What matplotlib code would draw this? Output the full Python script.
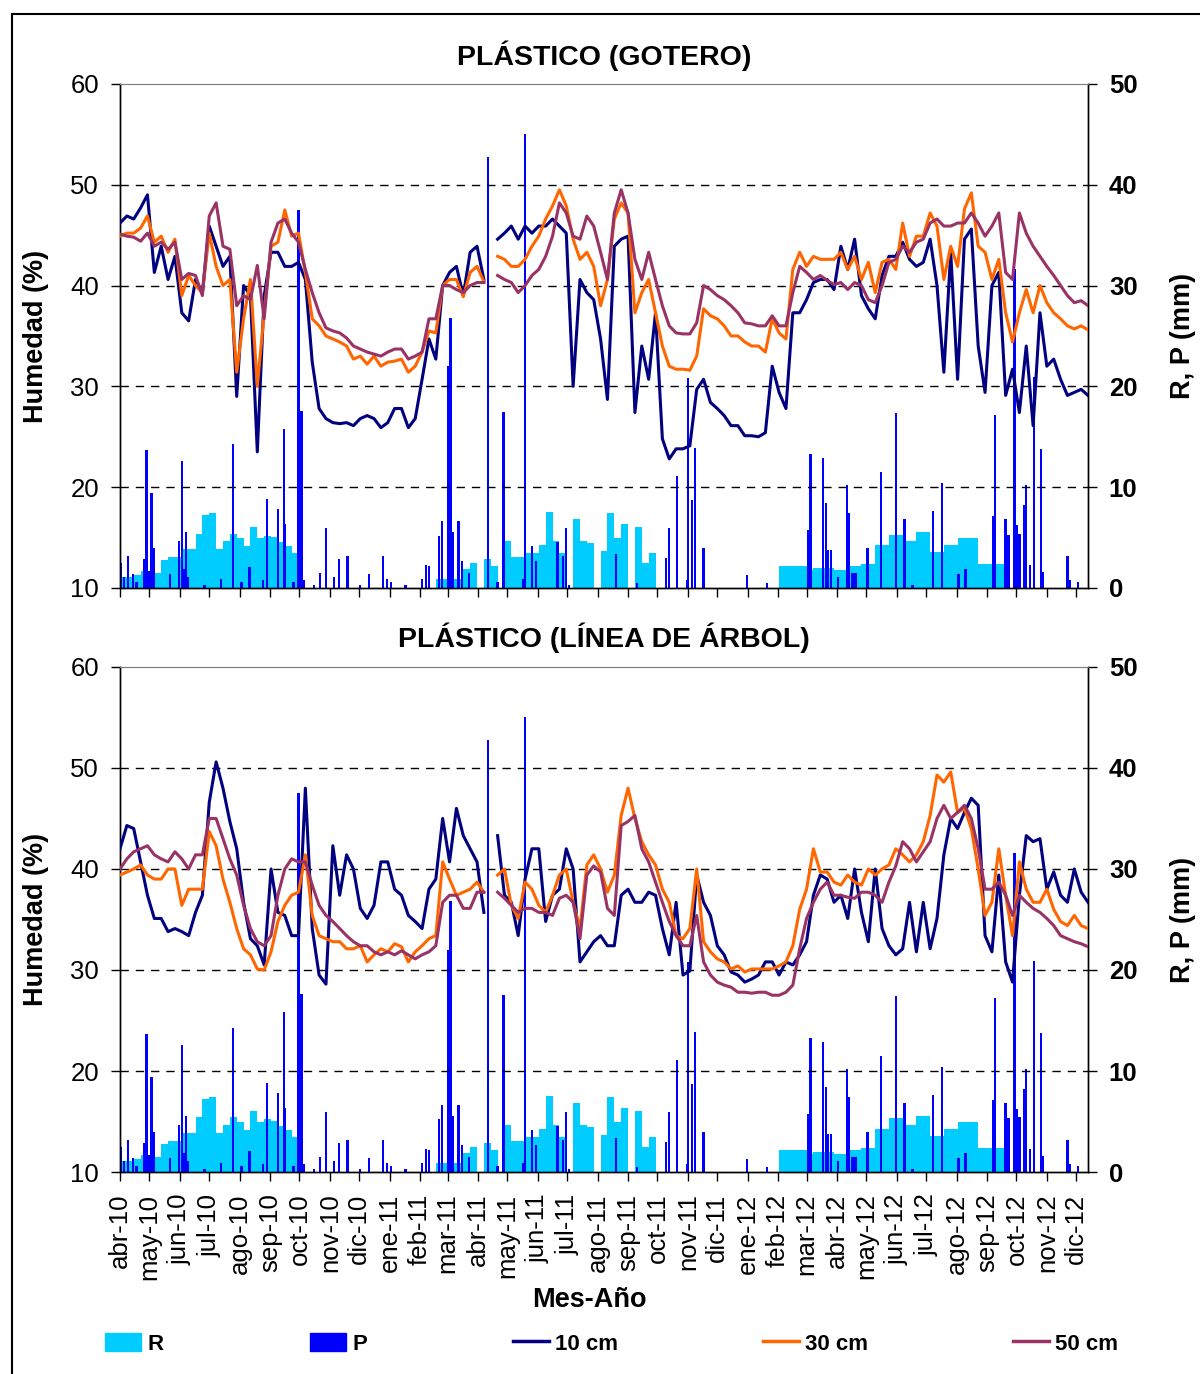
import numpy as np
import matplotlib
matplotlib.use("Agg")
import matplotlib.pyplot as plt
from matplotlib.patches import Patch, Rectangle
from matplotlib.lines import Line2D

plt.rcParams['font.family'] = ['Liberation Sans', 'DejaVu Sans']

# weekly readings, starting 1 Apr 2010
start = np.datetime64('2010-04-01')
n_weeks = 142
nan = np.nan

# PLASTICO (GOTERO) - soil moisture (%)
g10 = [46.2, 46.9, 46.6, 47.7, 49.0, 41.3, 43.9, 40.6, 42.9, 37.3,
       36.5, 40.6, 39.3, 45.9, 43.9, 41.9, 42.9, 29.0, 40.0, 39.0,
       23.5, 39.0, 43.3, 43.3, 41.9, 41.9, 42.3, 40.6, 32.4, 27.8,
       26.8, 26.4, 26.3, 26.4, 26.1, 26.8, 27.1, 26.8, 25.9, 26.4,
       27.8, 27.8, 25.9, 26.8, 30.7, 34.7, 32.7, 40.0, 41.3, 41.9,
       39.0, 43.3, 43.9, 40.6, nan, 44.6, 45.2, 45.9, 44.6, 45.9,
       45.2, 45.9, 45.9, 46.6, 45.9, 45.2, 30.0, 40.6, 39.3, 38.6,
       34.7, 28.7, 43.9, 44.6, 44.9, 27.4, 34.0, 30.7, 37.3, 24.8,
       22.8, 23.8, 23.8, 24.1, 29.7, 30.7, 28.4, 27.8, 27.1, 26.1,
       26.1, 25.1, 25.1, 25.0, 25.4, 32.0, 29.4, 27.8, 37.3, 37.3,
       38.6, 40.3, 40.6, 40.6, 39.6, 43.9, 41.6, 44.6, 39.0, 37.7,
       36.7, 41.0, 42.9, 42.9, 44.3, 42.6, 41.9, 42.3, 44.6, 40.0,
       31.4, 43.3, 30.7, 44.6, 45.6, 34.0, 29.4, 40.0, 41.3, 29.1,
       31.7, 27.4, 34.0, 26.1, 37.3, 32.0, 32.7, 30.7, 29.1, 29.4,
       29.7, 29.1]
g30 = [44.9, 45.2, 45.2, 45.7, 46.9, 44.3, 44.9, 43.3, 44.6, 39.0,
       41.0, 40.0, 39.3, 45.2, 41.9, 40.0, 40.6, 31.4, 36.7, 40.6,
       30.0, 37.3, 43.9, 44.3, 47.5, 44.9, 45.2, 41.3, 36.7, 36.0,
       35.0, 34.7, 34.4, 34.0, 32.7, 33.0, 32.2, 33.0, 32.0, 32.4,
       32.5, 32.7, 31.4, 32.0, 33.4, 35.5, 35.3, 40.0, 40.6, 40.6,
       38.9, 41.3, 41.9, 40.4, nan, 42.9, 42.6, 41.9, 41.9, 42.6,
       43.9, 44.9, 46.6, 47.9, 49.5, 47.9, 44.6, 42.6, 43.3, 41.9,
       38.0, 40.6, 46.6, 48.2, 47.2, 37.3, 39.3, 40.6, 37.3, 34.0,
       32.0, 31.7, 31.7, 31.6, 33.0, 37.7, 37.0, 36.7, 36.0, 35.0,
       35.0, 34.4, 34.0, 34.0, 33.4, 36.7, 35.3, 34.7, 41.6, 43.3,
       41.9, 42.9, 42.6, 42.6, 42.6, 43.3, 41.6, 42.9, 40.6, 42.3,
       39.3, 42.3, 42.6, 41.6, 46.2, 42.9, 44.9, 44.9, 47.2, 45.9,
       40.6, 43.9, 41.9, 47.6, 49.2, 43.9, 43.3, 40.6, 42.6, 37.3,
       34.4, 37.3, 39.6, 37.3, 40.0, 38.3, 37.3, 36.7, 36.0, 35.7,
       36.0, 35.6]
g50 = [45.1, 44.9, 44.8, 44.4, 45.2, 43.9, 44.3, 43.6, 44.3, 40.6,
       41.2, 41.0, 39.0, 46.9, 48.2, 43.9, 43.6, 38.0, 39.0, 38.6,
       42.0, 36.7, 44.3, 46.2, 46.6, 45.2, 44.3, 41.6, 39.3, 37.3,
       35.8, 35.5, 35.3, 34.8, 34.0, 33.7, 33.4, 33.2, 33.0, 33.4,
       33.7, 33.7, 32.7, 33.0, 33.4, 36.7, 36.7, 40.0, 40.0, 39.6,
       39.3, 40.0, 40.3, 40.3, nan, 41.0, 40.6, 40.3, 39.3, 40.0,
       41.0, 41.6, 42.9, 44.9, 48.2, 47.2, 44.9, 44.6, 46.9, 45.9,
       43.3, 40.6, 47.2, 49.5, 47.2, 42.6, 40.6, 43.3, 40.6, 38.0,
       36.0, 35.3, 35.2, 35.2, 36.3, 40.0, 39.6, 39.0, 38.6, 38.0,
       37.3, 36.3, 36.2, 36.0, 36.0, 37.0, 36.0, 36.0, 39.3, 41.9,
       41.3, 40.6, 41.0, 40.5, 40.1, 40.3, 39.6, 40.3, 40.0, 38.6,
       38.3, 40.0, 42.3, 42.6, 43.9, 43.3, 44.3, 44.6, 46.2, 46.6,
       45.9, 45.9, 46.2, 46.2, 47.2, 46.2, 44.9, 45.9, 47.2, 41.3,
       40.6, 47.2, 45.2, 43.9, 42.9, 41.9, 41.0, 40.0, 39.0, 38.3,
       38.5, 38.0]

# PLASTICO (LINEA DE ARBOL) - soil moisture (%)
a10 = [42.0, 44.3, 44.0, 40.7, 37.4, 35.1, 35.1, 33.8, 34.1, 33.8,
       33.4, 35.7, 37.4, 46.6, 50.6, 48.0, 44.7, 42.0, 36.7, 33.1,
       32.4, 30.5, 40.0, 35.7, 35.4, 33.4, 33.4, 48.0, 34.1, 29.5,
       28.6, 42.3, 37.4, 41.4, 40.0, 36.1, 35.1, 36.4, 40.7, 40.7,
       38.0, 37.4, 35.4, 34.8, 34.1, 38.0, 39.0, 45.0, 40.7, 46.0,
       43.3, 42.0, 40.7, 35.7, nan, 43.3, 37.4, 36.7, 33.4, 39.0,
       42.0, 42.0, 34.8, 37.4, 38.0, 42.0, 40.0, 30.8, 31.8, 32.8,
       33.4, 32.4, 32.4, 37.4, 38.0, 36.7, 36.7, 37.7, 37.4, 34.1,
       31.5, 36.7, 29.5, 29.9, 39.4, 36.7, 35.4, 32.4, 31.5, 29.8,
       29.5, 28.8, 29.1, 29.5, 30.8, 30.8, 29.5, 30.8, 30.5, 31.5,
       32.8, 37.4, 39.4, 39.0, 36.7, 37.4, 35.1, 40.0, 35.7, 32.8,
       40.0, 34.1, 32.4, 31.5, 32.1, 36.7, 31.8, 36.7, 32.1, 35.1,
       41.4, 45.0, 44.0, 45.6, 47.0, 46.3, 33.4, 31.8, 39.4, 30.8,
       28.8, 37.4, 43.3, 42.7, 43.0, 38.0, 39.7, 37.4, 36.7, 40.0,
       37.7, 36.7]
a30 = [39.4, 39.7, 40.0, 40.4, 39.4, 39.0, 39.0, 40.0, 40.0, 36.4,
       38.0, 38.0, 38.0, 43.7, 42.3, 39.0, 36.7, 34.1, 32.1, 31.5,
       30.1, 30.0, 31.8, 34.8, 36.4, 37.4, 37.7, 41.4, 35.4, 33.4,
       33.1, 32.8, 32.8, 32.1, 32.1, 32.4, 30.8, 31.5, 32.1, 31.8,
       32.6, 32.3, 30.8, 31.8, 32.4, 33.1, 33.4, 40.7, 39.0, 37.4,
       37.7, 38.0, 38.7, 37.7, nan, 39.4, 40.0, 36.4, 35.1, 38.7,
       38.0, 36.4, 35.7, 37.4, 39.4, 40.0, 36.7, 34.1, 40.4, 41.4,
       40.0, 37.7, 39.4, 45.3, 48.0, 45.0, 42.7, 41.4, 40.4, 38.0,
       36.7, 33.4, 33.1, 34.1, 40.0, 32.8, 31.8, 31.1, 30.8, 30.1,
       30.4, 29.8, 30.1, 30.1, 30.1, 30.1, 30.4, 30.8, 32.4, 36.0,
       38.0, 42.0, 39.7, 39.7, 38.7, 38.4, 39.4, 38.7, 38.4, 40.0,
       39.4, 40.0, 40.4, 42.0, 41.4, 40.7, 41.4, 42.7, 45.3, 49.3,
       48.6, 49.6, 45.6, 46.0, 44.0, 40.0, 35.4, 36.7, 42.0, 37.4,
       33.4, 40.7, 38.0, 36.7, 36.7, 38.0, 36.0, 34.8, 34.4, 35.4,
       34.4, 34.1]
a50 = [40.0, 41.0, 41.7, 42.0, 42.3, 41.4, 41.0, 40.7, 41.7, 41.0,
       40.0, 41.4, 41.4, 45.0, 45.0, 43.0, 41.0, 39.4, 36.4, 34.1,
       32.8, 32.4, 33.4, 37.4, 40.0, 41.0, 40.7, 40.7, 38.4, 36.4,
       35.4, 34.8, 34.1, 33.4, 32.8, 32.4, 32.4, 31.8, 31.5, 31.8,
       31.5, 31.9, 31.5, 31.1, 31.5, 31.8, 32.4, 36.7, 37.4, 37.4,
       36.1, 36.1, 37.7, 37.7, nan, 37.7, 37.1, 36.4, 35.7, 36.1,
       36.1, 35.7, 35.7, 35.4, 37.1, 37.4, 36.7, 33.1, 39.4, 40.3,
       39.7, 36.1, 35.4, 44.3, 44.7, 45.3, 42.0, 40.7, 38.7, 36.7,
       34.8, 33.4, 32.4, 32.4, 35.4, 30.8, 29.5, 28.8, 28.5, 28.3,
       27.8, 27.8, 27.7, 27.8, 27.8, 27.5, 27.5, 27.8, 28.5, 32.1,
       35.1, 36.7, 38.0, 38.7, 37.4, 37.4, 37.2, 37.1, 37.7, 37.7,
       37.4, 36.7, 38.7, 40.3, 42.7, 42.0, 40.7, 41.7, 42.7, 45.0,
       46.3, 45.0, 45.6, 46.3, 45.0, 42.0, 38.0, 38.0, 38.7, 37.4,
       35.4, 37.4, 36.7, 36.1, 35.7, 35.1, 34.4, 33.4, 33.1, 32.8,
       32.6, 32.3]

# R: irrigation per week (mm)
r_mm = [1.1, 1.1, 1.3, 1.7, 1.5, 1.5, 2.8, 3.1, 3.1, 3.9,
        3.9, 5.4, 7.2, 7.4, 3.9, 4.7, 5.4, 5.0, 4.2, 6.0,
        5.0, 5.2, 5.1, 4.6, 4.2, 3.5, 0, 0, 0, 0,
        0, 0, 0, 0, 0, 0, 0, 0, 0, 0,
        0, 0, 0, 0, 0, 0, 0.9, 0.9, 0.9, 0.9,
        1.9, 2.5, 0, 2.9, 2.2, 0, 4.7, 3.1, 3.1, 3.5,
        3.5, 4.3, 7.5, 4.7, 3.5, 0, 6.8, 4.7, 4.5, 0,
        3.7, 7.4, 5.0, 6.3, 0, 6.0, 2.5, 3.5, 0, 0,
        0, 0, 0, 0, 0, 0, 0, 0, 0, 0,
        0, 0, 0, 0, 0, 0, 2.2, 2.2, 2.2, 2.2,
        1.8, 2.0, 2.0, 2.0, 1.8, 1.8, 2.2, 2.2, 2.4, 2.4,
        4.3, 4.3, 5.3, 5.3, 4.7, 4.7, 5.5, 5.5, 3.6, 3.6,
        4.3, 4.3, 5.0, 5.0, 5.0, 2.4, 2.4, 2.4, 2.4, 0,
        0, 0, 0, 0, 0, 0, 0, 0, 0, 0,
        0, 0]

# P: daily rainfall (day since 1 Apr 2010, mm)
p_day = [1, 4, 8, 13, 17, 25, 27, 30, 32, 34, 51, 60, 63, 65, 67, 69, 86, 103,
         115, 124, 132, 146, 150, 161, 167, 168, 177, 182, 185, 187, 198, 204,
         210, 218, 223, 232, 245, 254, 268, 272, 276, 291, 308, 312, 315, 325,
         328, 335, 337, 339, 345, 349, 356, 375, 385, 391, 411, 413, 420, 424,
         446, 452, 455, 458, 506, 527, 557, 560, 568, 578, 579, 583, 586, 595,
         639, 660, 702, 704, 717, 720, 722, 725, 732, 741, 743, 747, 750, 762,
         776, 791, 800, 808, 829, 838, 855, 862, 890, 892, 903, 906, 912, 914,
         917, 922, 924, 928, 932, 939, 941, 966, 968, 977]
p_mm = [2.5, 1.1, 3.2, 1.4, 0.6, 2.9, 13.7, 1.7, 9.4, 4.0, 1.4, 4.7, 12.6, 1.9,
        5.5, 1.1, 0.3, 0.9, 14.3, 0.6, 2.1, 0.8, 8.8, 7.8, 15.8, 6.3, 0.6, 37.5,
        17.6, 0.8, 0.3, 1.5, 5.9, 1.1, 2.9, 3.2, 0.3, 1.4, 3.2, 0.9, 0.6, 0.3,
        0.9, 2.3, 2.2, 5.2, 6.6, 22.0, 26.8, 5.5, 6.6, 2.7, 1.5, 42.8, 0.6, 17.5,
        0.9, 45.0, 4.2, 2.7, 4.6, 3.2, 5.9, 0.3, 3.4, 0.5, 3.0, 5.9, 11.1, 0.8,
        20.8, 8.7, 13.9, 4.0, 1.3, 0.5, 5.7, 13.3, 12.9, 8.4, 3.8, 3.8, 1.1,
        10.2, 7.4, 1.5, 1.5, 4.0, 11.5, 17.4, 6.8, 0.3, 7.6, 10.4, 1.4, 1.9, 7.1,
        17.2, 6.8, 5.3, 31.6, 6.2, 5.4, 8.2, 10.2, 2.3, 20.9, 13.8, 1.6, 3.2, 0.8,
        0.6]

month_labels = ['abr-10', 'may-10', 'jun-10', 'jul-10', 'ago-10', 'sep-10',
                'oct-10', 'nov-10', 'dic-10', 'ene-11', 'feb-11', 'mar-11',
                'abr-11', 'may-11', 'jun-11', 'jul-11', 'ago-11', 'sep-11',
                'oct-11', 'nov-11', 'dic-11', 'ene-12', 'feb-12', 'mar-12',
                'abr-12', 'may-12', 'jun-12', 'jul-12', 'ago-12', 'sep-12',
                'oct-12', 'nov-12', 'dic-12']

week_dates = start + np.arange(n_weeks) * np.timedelta64(7, 'D')
p_dates = start + np.array(p_day) * np.timedelta64(1, 'D')
month_ticks = np.arange('2010-04', '2013-01', dtype='datetime64[M]').astype('datetime64[D]')
x_end = start + np.timedelta64(987, 'D')

c_r, c_p = '#00CCFF', '#0000FF'
c10, c30, c50 = '#000080', '#FF6600', '#993366'
fs = 18.5
fs_lab = 19.5

fig = plt.figure(figsize=(12, 13.74), dpi=100)


def panel(rect, title, s10, s30, s50, xlabels):
    ax = fig.add_axes(rect)
    ax2 = ax.twinx()
    ax2.bar(week_dates, r_mm, width=7, align='edge', color=c_r, linewidth=0)
    ax2.bar(p_dates, p_mm, width=2.4, color=c_p, linewidth=0)
    ax2.set_ylim(0, 50)
    ax2.set_yticks(range(0, 51, 10))
    ax2.tick_params(axis='y', direction='out', length=6.5, pad=8.5,
                    labelsize=fs, width=1)
    for t in ax2.get_yticklabels():
        t.set_fontweight('bold')
    ax2.set_ylabel('R, P (mm)', fontsize=fs_lab, fontweight='bold')
    ax2.yaxis.set_label_coords(1.085, 0.5)

    ax.set_zorder(ax2.get_zorder() + 1)
    ax.patch.set_visible(False)
    for y in (20, 30, 40, 50):
        ax.axhline(y, color='black', lw=1, ls=(0, (6, 5)), zorder=1)
    ax.plot(week_dates, s10, color=c10, lw=2.2, zorder=3)
    ax.plot(week_dates, s30, color=c30, lw=2.2, zorder=3)
    ax.plot(week_dates, s50, color=c50, lw=2.2, zorder=3)
    ax.set_ylim(10, 60)
    ax.set_yticks(range(10, 61, 10))
    ax.set_xlim(start, x_end)
    ax.set_xticks(month_ticks)
    if xlabels:
        ax.set_xticklabels(month_labels, rotation=90, fontsize=fs)
    else:
        ax.set_xticklabels([])
    ax.tick_params(axis='y', direction='out', length=6.5, pad=8.5,
                   labelsize=fs, width=1)
    ax.tick_params(axis='x', direction='out', length=6.5, pad=9,
                   labelsize=fs, width=1)
    ax.set_ylabel('Humedad (%)', fontsize=fs_lab, fontweight='bold')
    ax.yaxis.set_label_coords(-0.073, 0.5)
    ax.set_title(title, fontsize=20.5, fontweight='bold', pad=14)
    for a in (ax, ax2):
        a.spines['top'].set_color('#808080')
        for s in ('left', 'right', 'bottom'):
            a.spines[s].set_linewidth(1)
    return ax


panel([0.1, 0.5721, 0.8067, 0.3668], 'PLÁSTICO (GOTERO)', g10, g30, g50, False)
panel([0.1, 0.1470, 0.8067, 0.3676], 'PLÁSTICO (LÍNEA DE ÁRBOL)', a10, a30, a50, True)

fig.text(589 / 1200, 1 - 1300 / 1374, 'Mes-Año', ha='center', va='center',
         fontsize=fs_lab, fontweight='bold')

handles = [Patch(color=c_r), Patch(color=c_p),
           Line2D([], [], color=c10, lw=2.5), Line2D([], [], color=c30, lw=2.5),
           Line2D([], [], color=c50, lw=2.5)]
labels = ['R', 'P', '10 cm', '30 cm', '50 cm']
x_pos = [105, 310, 513, 763, 1013]
for h, lab, xp in zip(handles, labels, x_pos):
    fig.legend([h], [lab], loc='center left', frameon=False,
               bbox_to_anchor=(xp / 1200, 1 - 1344 / 1374),
               prop={'size': 16, 'weight': 'bold'},
               handlelength=1.6, handleheight=0.85, handletextpad=0.3,
               borderaxespad=0, borderpad=0)

fig.add_artist(Rectangle((12 / 1200, -0.01), 1.0, 1 - 14 / 1374 + 0.01,
                         transform=fig.transFigure, fill=False, lw=1.5,
                         ec='black'))

fig.savefig('out.png', dpi=100)
